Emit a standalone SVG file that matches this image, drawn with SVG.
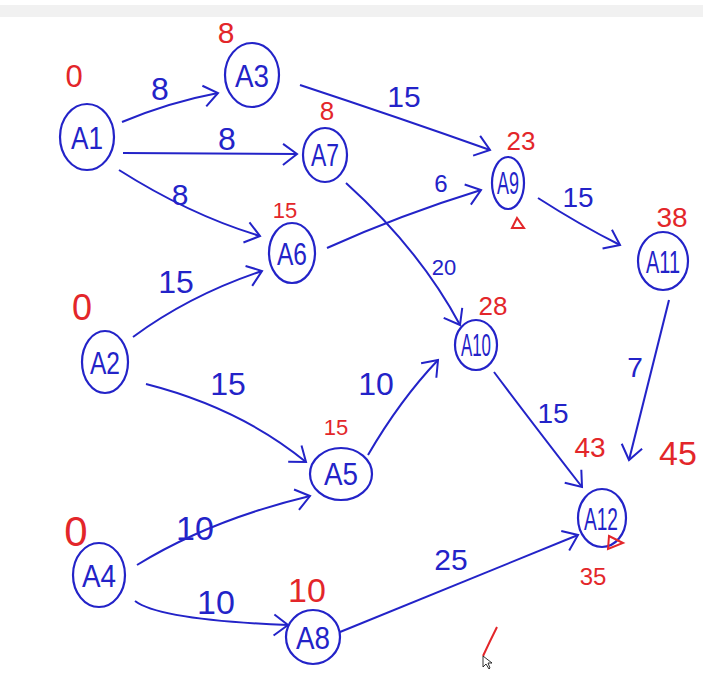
<svg xmlns="http://www.w3.org/2000/svg" width="703" height="698" viewBox="0 0 703 698">
<style>
.node ellipse{fill:none;stroke:#2323c8;stroke-width:2.2}
.nl{font-family:"Liberation Sans",Arial,sans-serif;font-size:32px;fill:#2323c8;text-anchor:middle}
.el{font-family:"Liberation Sans",Arial,sans-serif;fill:#2323c8;text-anchor:middle}
.rl{font-family:"Liberation Sans",Arial,sans-serif;fill:#e3262a;text-anchor:middle}
.edges path{fill:none;stroke:#2323c8;stroke-width:2;marker-end:url(#ah)}
</style>
<defs>
<marker id="ah" markerUnits="userSpaceOnUse" markerWidth="30" markerHeight="30" viewBox="-20 -15 30 30" refX="0" refY="0" orient="auto">
<path d="M-14,-10 L0,0 L-14,11" fill="none" stroke="#2323c8" stroke-width="2"/>
</marker>
</defs>
<rect x="0" y="0" width="703" height="698" fill="#ffffff"/>
<rect x="0" y="5" width="703" height="12" fill="#f1f1f1"/>

<g id="connectors" class="edges">
<path d="M122,122 Q170,102 218,93"/>
<path d="M123,153 L297,154"/>
<path d="M119,170 Q190,215 260,236"/>
<path d="M133,337 Q190,295 262,271"/>
<path d="M300,85 Q400,118 490,150"/>
<path d="M327,248 Q400,215 481,190"/>
<path d="M346,183 Q420,250 460,325"/>
<path d="M538,198 Q580,225 620,245"/>
<path d="M669,300 L629,460"/>
<path d="M494,372 Q530,420 582,487"/>
<path d="M368,455 Q400,400 438,360"/>
<path d="M146,384 Q240,408 306,462"/>
<path d="M137,565 Q210,520 310,496"/>
<path d="M135,601 Q160,620 288,625"/>
<path d="M340,632 L578,535"/>
</g>

<g id="edge-labels">
<text class="el" x="160" y="100" font-size="32">8</text>
<text class="el" x="227" y="150" font-size="32">8</text>
<text class="el" x="180" y="205" font-size="30">8</text>
<text class="el" x="404" y="107" font-size="30">15</text>
<text class="el" x="441" y="192" font-size="24">6</text>
<text class="el" x="578" y="207" font-size="28">15</text>
<text class="el" x="444" y="275" font-size="22">20</text>
<text class="el" x="176" y="293" font-size="32">15</text>
<text class="el" x="228" y="395" font-size="32">15</text>
<text class="el" x="376" y="395" font-size="32">10</text>
<text class="el" x="553" y="423" font-size="28">15</text>
<text class="el" x="635" y="377" font-size="28">7</text>
<text class="el" x="195" y="540" font-size="34">10</text>
<text class="el" x="216" y="614" font-size="34">10</text>
<text class="el" x="451" y="570" font-size="30">25</text>
</g>

<g id="A1" class="node"><ellipse cx="87" cy="137" rx="27" ry="33"/><text class="nl" x="87" y="149" textLength="32" lengthAdjust="spacingAndGlyphs">A1</text></g>
<g id="A3" class="node"><ellipse cx="252" cy="75" rx="27" ry="32"/><text class="nl" x="252" y="87" textLength="34" lengthAdjust="spacingAndGlyphs">A3</text></g>
<g id="A7" class="node"><ellipse cx="325" cy="155" rx="22" ry="27"/><text class="nl" x="325" y="166" font-size="28" textLength="28" lengthAdjust="spacingAndGlyphs">A7</text></g>
<g id="A6" class="node"><ellipse cx="292" cy="253" rx="23" ry="30"/><text class="nl" x="292" y="265" textLength="30" lengthAdjust="spacingAndGlyphs">A6</text></g>
<g id="A2" class="node"><ellipse cx="105" cy="362" rx="23" ry="31"/><text class="nl" x="105" y="374" textLength="30" lengthAdjust="spacingAndGlyphs">A2</text></g>
<g id="A9" class="node"><ellipse cx="508" cy="183" rx="16" ry="26"/><text class="nl" x="508" y="194" font-size="28" textLength="22" lengthAdjust="spacingAndGlyphs">A9</text></g>
<g id="A11" class="node"><ellipse cx="663" cy="261" rx="25" ry="29"/><text class="nl" x="663" y="273" textLength="34" lengthAdjust="spacingAndGlyphs">A11</text></g>
<g id="A10" class="node"><ellipse cx="476" cy="345" rx="21" ry="25"/><text class="nl" x="476" y="356" font-size="28" textLength="30" lengthAdjust="spacingAndGlyphs">A10</text></g>
<g id="A5" class="node"><ellipse cx="341" cy="474" rx="31" ry="26"/><text class="nl" x="341" y="485" font-size="30" textLength="34" lengthAdjust="spacingAndGlyphs">A5</text></g>
<g id="A12" class="node"><ellipse cx="602" cy="518" rx="24" ry="29"/><text class="nl" x="601" y="530" textLength="34" lengthAdjust="spacingAndGlyphs">A12</text></g>
<g id="A4" class="node"><ellipse cx="99" cy="575" rx="26" ry="32"/><text class="nl" x="99" y="587" textLength="34" lengthAdjust="spacingAndGlyphs">A4</text></g>
<g id="A8" class="node"><ellipse cx="313" cy="637" rx="27" ry="27"/><text class="nl" x="313" y="649" textLength="34" lengthAdjust="spacingAndGlyphs">A8</text></g>

<g id="times">
<text class="rl" x="74" y="87" font-size="31">0</text>
<text class="rl" x="226" y="43" font-size="30">8</text>
<text class="rl" x="327" y="120" font-size="26">8</text>
<text class="rl" x="285" y="218" font-size="22">15</text>
<text class="rl" x="82" y="320" font-size="36">0</text>
<text class="rl" x="521" y="150" font-size="26">23</text>
<text class="rl" x="672" y="227" font-size="28">38</text>
<text class="rl" x="493" y="315" font-size="26">28</text>
<text class="rl" x="336" y="435" font-size="22">15</text>
<text class="rl" x="590" y="457" font-size="28">43</text>
<text class="rl" x="678" y="465" font-size="34">45</text>
<text class="rl" x="593" y="585" font-size="24">35</text>
<text class="rl" x="76" y="546" font-size="42">0</text>
<text class="rl" x="307" y="602" font-size="34">10</text>
<polygon points="517,218 512,228 524,228" fill="none" stroke="#e3262a" stroke-width="2"/>
<polygon points="609,536 623,543 608,549" fill="none" stroke="#e3262a" stroke-width="2"/>
<path d="M497,627 Q490,641 483,656" fill="none" stroke="#e3262a" stroke-width="2"/>
</g>
<polygon points="483,656 483,667 486,664 489,669 490,668 488,663 492,663" fill="#ffffff" stroke="#000000" stroke-width="0.8"/>
</svg>
